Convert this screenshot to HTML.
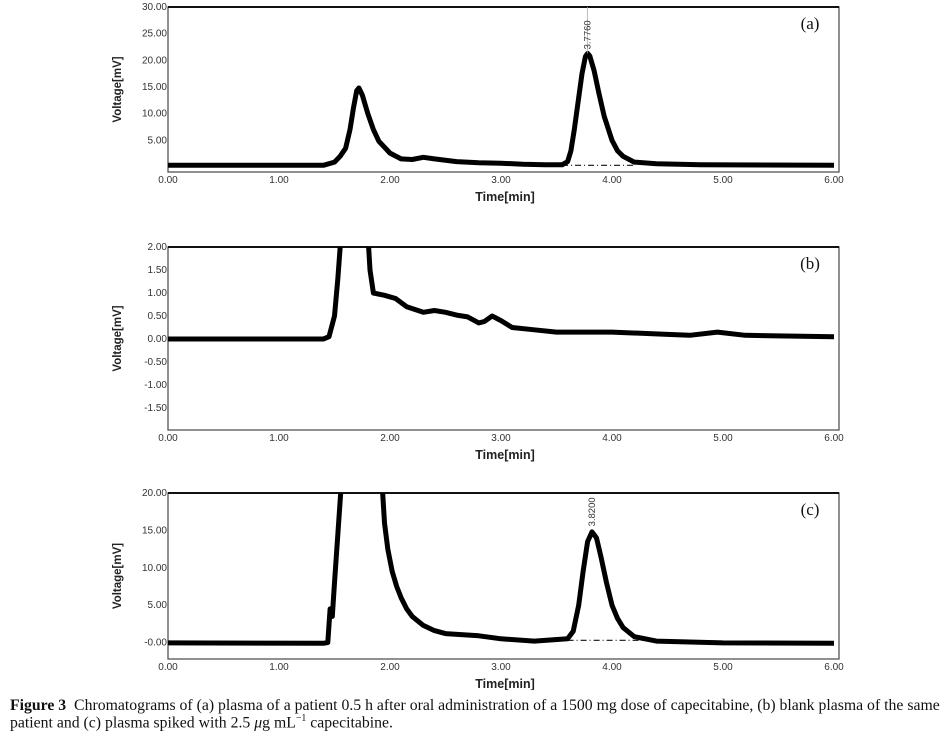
<!DOCTYPE html>
<html><head><meta charset="utf-8"><style>
body{margin:0;background:#fff;width:948px;height:736px;overflow:hidden;position:relative}
svg{position:absolute;left:0;top:0}
.cap{position:absolute;left:10px;font-family:"Liberation Serif",serif;font-size:16px;white-space:nowrap;transform-origin:0 0;transform:scaleX(0.985);color:#111}
</style></head><body>
<svg id="chart" width="948" height="690"></svg>
<div class="cap" style="top:697px"><b>Figure 3</b>&nbsp; Chromatograms of (a) plasma of a patient 0.5 h after oral administration of a 1500 mg dose of capecitabine, (b) blank plasma of the same</div>
<div class="cap" style="top:713px">patient and (c) plasma spiked with 2.5 <i>μ</i>g mL<sup style="font-size:10px">−1</sup> capecitabine.</div>
<script>
const xTicks=[0,1,2,3,4,5,6];
const xTickLabels=["0.00","1.00","2.00","3.00","4.00","5.00","6.00"];
const aTime=[0,1.4,1.5,1.55,1.6,1.64,1.67,1.7,1.72,1.75,1.8,1.85,1.9,2.0,2.1,2.2,2.3,2.4,2.6,2.8,3.0,3.2,3.4,3.55,3.6,3.63,3.66,3.7,3.73,3.76,3.78,3.8,3.84,3.88,3.93,4.0,4.05,4.1,4.2,4.4,4.8,6.0];
const aVolt=[0.3,0.3,0.9,2,3.5,7,11,14.3,14.8,13.5,10,7,4.8,2.6,1.5,1.4,1.8,1.5,1.0,0.8,0.7,0.5,0.4,0.4,1,3,7,13,17.5,20.7,21.3,20.8,18,14,9.5,5,3,2,0.9,0.6,0.4,0.3];
const aTicks=[5,10,15,20,25,30];
const aTickLabels=["5.00","10.00","15.00","20.00","25.00","30.00"];
const bTime=[0,1.4,1.45,1.5,1.53,1.56,1.65,1.8,1.82,1.85,1.95,2.05,2.15,2.3,2.4,2.5,2.6,2.7,2.8,2.85,2.92,3.0,3.1,3.3,3.5,4.0,4.5,4.7,4.95,5.2,6.0];
const bVolt=[0,0,0.05,0.5,1.3,2.3,6,2.3,1.5,1.0,0.95,0.88,0.7,0.58,0.62,0.58,0.52,0.48,0.35,0.38,0.5,0.4,0.25,0.2,0.15,0.15,0.1,0.08,0.15,0.08,0.05];
const bTicks=[-1.5,-1,-0.5,0,0.5,1,1.5,2];
const bTickLabels=["-1.50","-1.00","-0.50","0.00","0.50","1.00","1.50","2.00"];
const cTime=[0,1.4,1.44,1.46,1.48,1.5,1.56,1.7,1.93,1.95,1.98,2.02,2.06,2.1,2.15,2.2,2.3,2.4,2.5,2.8,3.0,3.3,3.6,3.65,3.7,3.74,3.78,3.82,3.86,3.9,3.95,4.0,4.05,4.1,4.2,4.4,5.0,6.0];
const cVolt=[-0.05,-0.1,0,4.5,3.5,8,21,40,21,16,12.5,9.5,7.5,6,4.5,3.5,2.3,1.6,1.2,0.9,0.5,0.2,0.5,1.5,5,9.5,13.5,14.8,14,11.5,8,5,3.2,2,0.8,0.2,-0.05,-0.1];
const cTicks=[0,5,10,15,20];
const cTickLabels=["-0.00","5.00","10.00","15.00","20.00"];
const NS="http://www.w3.org/2000/svg";
const svg=document.getElementById('chart');
function mk(t,a,p){const e=document.createElementNS(NS,t);for(const k in a)e.setAttribute(k,a[k]);(p||svg).appendChild(e);return e;}
function panel(o){
  const L=168,R=839,X1=6.045;
  const sx=t=>L+(R-L)*t/X1;
  const sy=v=>o.top+(o.bot-o.top)*(o.ymax-v)/(o.ymax-o.ymin);
  const g=mk('g',{});
  
  
  const cid='clip'+o.id;
  const cp=mk('clipPath',{id:cid},g);mk('rect',{x:L,y:o.top,width:R-L,height:o.bot-o.top},cp);
  const fr=mk('rect',{x:L,y:o.top,width:R-L,height:o.bot-o.top,fill:'none',stroke:'#555','stroke-width':1.3},g);
  
  
  mk('line',{x1:L,y1:o.top,x2:R,y2:o.top,stroke:'#111','stroke-width':2},g);
  xTicks.forEach((t,i)=>{const tx=mk('text',{x:sx(t),y:o.bot+11,'text-anchor':'middle','font-size':10,'font-family':'Liberation Sans, sans-serif',fill:'#333'},g);tx.textContent=xTickLabels[i];
    
    });
  o.ticks.forEach((v,i)=>{const ty=mk('text',{x:L-1,y:sy(v)+3,'text-anchor':'end','font-size':10,'font-family':'Liberation Sans, sans-serif',fill:'#333'},g);ty.textContent=o.labels[i];
    
    });
  const xt=mk('text',{x:505,y:o.bot+29,'text-anchor':'middle','font-size':12.5,'font-weight':'bold','font-family':'Liberation Sans, sans-serif',fill:'#222'},g);xt.textContent='Time[min]';
  
  
  const cy=(o.top+o.bot)/2;
  const yt=mk('text',{x:121,y:cy,'text-anchor':'middle','font-size':11.5,'font-weight':'bold','font-family':'Liberation Sans, sans-serif',fill:'#222',transform:`rotate(-90 121 ${cy})`},g);yt.textContent='Voltage[mV]';
  
  
  const pl=mk('text',{x:810,y:o.top+22,'text-anchor':'middle','font-size':17,'font-family':'Liberation Serif, serif',fill:'#111'},g);pl.textContent='('+o.id+')';
  
  
  if(o.base){const bl=mk('line',{x1:sx(o.base[0]),y1:sy(o.base[2]),x2:sx(o.base[1]),y2:sy(o.base[2]),stroke:'#111','stroke-width':1.2,'stroke-dasharray':'6 3 1 3'},g);
    
    }
  const d=o.t.map((t,i)=>(i?'L':'M')+sx(t).toFixed(1)+','+sy(o.v[i]).toFixed(1)).join('');
  const p=mk('path',{d:d,fill:'none',stroke:'#000','stroke-width':o.w,'stroke-linejoin':'round','clip-path':`url(#${cid})`},g);
  
  
  if(o.peak){const px=sx(o.peak[0]),py=sy(o.peak[1]);
    if(o.id==='a')mk('line',{x1:px,y1:o.top,x2:px,y2:py,stroke:'#aaa','stroke-width':0.8},g);
    const lt=mk('text',{x:px+3,y:py-4,'font-size':9.5,'font-family':'Liberation Sans, sans-serif',fill:'#333',transform:`rotate(-90 ${px+3} ${py-4})`},g);lt.textContent=o.peak[2];
    
    }
}
panel({id:'a',top:7,bot:172,ymin:-0.95,ymax:30,ticks:aTicks,labels:aTickLabels,t:aTime,v:aVolt,w:5,base:[3.55,4.2,0.3],peak:[3.778,21.3,'3.7760']});
panel({id:'b',top:247,bot:430,ymin:-1.98,ymax:2,ticks:bTicks,labels:bTickLabels,t:bTime,v:bVolt,w:5});
panel({id:'c',top:493,bot:659,ymin:-2.2,ymax:20,ticks:cTicks,labels:cTickLabels,t:cTime,v:cVolt,w:5,base:[3.6,4.3,0.3],peak:[3.82,15,'3.8200']});
</script>
</body></html>
